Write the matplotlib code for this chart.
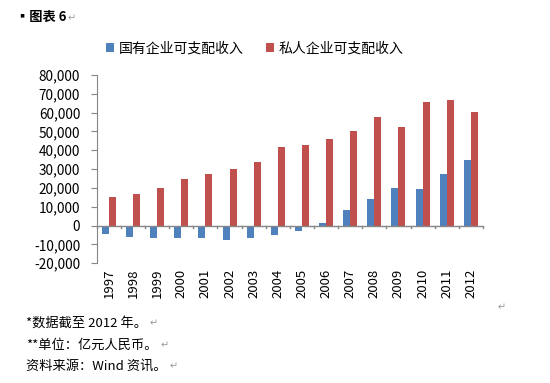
import numpy as np
import matplotlib.pyplot as plt
from matplotlib.ticker import FuncFormatter

plt.rcParams['font.family'] = ['Noto Sans CJK SC', 'DejaVu Sans']

years = ['1997', '1998', '1999', '2000', '2001', '2002', '2003', '2004',
         '2005', '2006', '2007', '2008', '2009', '2010', '2011', '2012']
state_income = [-4400, -5900, -6900, -6900, -6900, -7600, -6400, -5100,
                -2700, 1400, 8500, 14200, 20000, 19500, 27500, 34900]
private_income = [14900, 17000, 20000, 24600, 27500, 30300, 34000, 41700,
                  42900, 45900, 50500, 57600, 52500, 65800, 66700, 60400]
labels = ['国有企业可支配收入', '私人企业可支配收入']

fig = plt.figure(figsize=(5.5, 3.83), dpi=100)
ax = fig.add_axes([0.176, 0.313, 0.702, 0.491])

x = np.arange(len(years))
w = 0.29
ax.bar(x - w / 2, state_income, w, color='#4F81BD', label=labels[0])
ax.bar(x + w / 2, private_income, w, color='#C0504D', label=labels[1])

ax.set_xlim(-0.5, len(years) - 0.5)
ax.set_ylim(-20000, 80000)
ax.set_yticks(np.arange(-20000, 80001, 10000))
ax.yaxis.set_major_formatter(FuncFormatter(lambda v, p: f'{int(v):,}'))
ax.tick_params(axis='y', labelsize=9.8, length=4, color='#868686', pad=8)

for s in ['top', 'right', 'bottom']:
    ax.spines[s].set_visible(False)
ax.spines['left'].set_color('#868686')

# zero line with category separator ticks
ax.axhline(0, color='#868686', lw=1)
for b in np.arange(-0.5, len(years), 1.0):
    ax.plot([b, b], [0, -1300], color='#868686', lw=1, clip_on=False)

ax.set_xticks(x)
ax.set_xticklabels(years, rotation=90, fontsize=9.5)
ax.tick_params(axis='x', length=0, pad=4)

leg = fig.legend(loc='upper left', bbox_to_anchor=(0.17, 0.925), ncol=2,
                 frameon=False, fontsize=10, handlelength=0.6, handleheight=0.6,
                 handletextpad=0.3, columnspacing=1.6)

fig.text(0.03, 0.955, '▪图表 6', fontsize=9.5, fontweight='bold', va='center')
fig.text(0.122, 0.952, '↵', fontsize=7, color='#999999', va='center')
fig.text(0.905, 0.198, '↵', fontsize=7, color='#999999', va='center')

notes = ['*数据截至 2012 年。', '**单位：亿元人民币。', '资料来源：Wind 资讯。']
ys = [0.155, 0.098, 0.043]
for t, yy in zip(notes, ys):
    tx = fig.text(0.048, yy, t, fontsize=9.5, va='center')
    fig.canvas.draw()
    bb = tx.get_window_extent()
    fig.text(bb.x1 / 550 + 0.004, yy, '↵', fontsize=7, color='#999999', va='center')

fig.savefig('out.png', dpi=100)
